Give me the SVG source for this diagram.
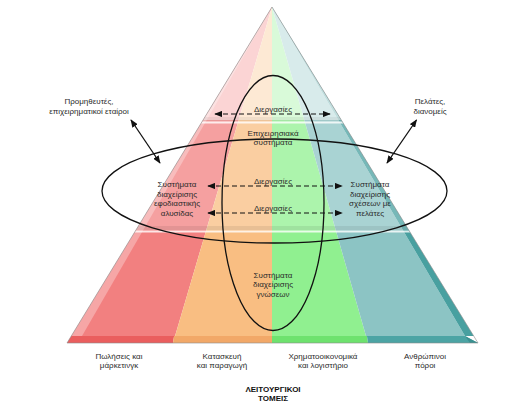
<svg xmlns="http://www.w3.org/2000/svg" width="505" height="405" viewBox="0 0 505 405">
<style>
text{font-family:"Liberation Sans",Arial,sans-serif;font-size:8px;fill:#2a2a2a;text-anchor:middle}
.bold{font-weight:bold;fill:#111}
.ring{fill:none;stroke:#111;stroke-width:1.3}
.dash{stroke:#111;stroke-width:1.2;stroke-dasharray:5 3;fill:none}
.solid{stroke:#111;stroke-width:1.3;fill:none}
</style>
<defs>
<clipPath id="cFront"><polygon points="272,7 71.3,336 465,336"/></clipPath>
<clipPath id="cBase"><polygon points="71.3,336 465,336 478,343 67,343"/></clipPath>
<clipPath id="cAll"><polygon points="272,7 67,343 478,343"/></clipPath>
<marker id="ah" viewBox="0 0 10 8" refX="9" refY="4" markerWidth="8" markerHeight="6.5" markerUnits="userSpaceOnUse" orient="auto-start-reverse"><path d="M0,0 L10,4 L0,8 Z" fill="#111"/></marker>
</defs>

<g id="pyramid">
  <g clip-path="url(#cFront)">
    <polygon points="272,7 173,343 0,343 0,0 272,0" fill="#f28080"/>
    <polygon points="272,7 272,343 173,343" fill="#f9be82"/>
    <polygon points="272,7 368,343 272,343" fill="#90f090"/>
    <polygon points="272,7 272,0 505,0 505,343 368,343" fill="#8cc4c4"/>
  </g>
  <polygon points="272,7 465,336 473.7,336" fill="#48a0a0"/>
  <g clip-path="url(#cBase)">
    <polygon points="0,330 175,330 173,343 0,343" fill="#ea5e5e"/>
    <polygon points="175,330 272,330 272,343 173,343" fill="#f2a868"/>
    <polygon points="272,330 366,330 368,343 272,343" fill="#6ee26e"/>
    <polygon points="366,330 505,330 505,343 368,343" fill="#4ca4a4"/>
    <polygon points="465,336 473.7,336 478,343 470,343" fill="#3a9090"/>
  </g>
  <polygon points="272,7 71.3,336 82,336" fill="#fff" opacity="0.3"/>
  <g clip-path="url(#cAll)">
    <rect x="0" y="0" width="505" height="230" fill="#fff" opacity="0.25"/>
    <rect x="0" y="0" width="505" height="120" fill="#fff" opacity="0.55"/>
    <rect x="0" y="226" width="505" height="4" fill="#000" opacity="0.07"/>
    <rect x="0" y="230.5" width="505" height="2" fill="#fff" opacity="0.8"/>
    <rect x="0" y="117" width="505" height="4" fill="#000" opacity="0.05"/>
    <rect x="0" y="121.5" width="505" height="2" fill="#fff" opacity="0.8"/>
  </g>
  <polygon points="272,7 67,343 478,343" fill="none" stroke="#8a8a8a" stroke-width="0.6"/>
</g>

<g id="ellipse-horizontal"><ellipse class="ring" cx="274.5" cy="191" rx="172.5" ry="52"/></g>
<g id="ellipse-vertical"><ellipse class="ring" cx="273" cy="203" rx="51" ry="127.5"/></g>

<g id="connectors">
  <line class="solid" x1="131" y1="120" x2="160" y2="163" marker-start="url(#ah)" marker-end="url(#ah)"/>
  <line class="solid" x1="416.5" y1="120" x2="387" y2="163" marker-start="url(#ah)" marker-end="url(#ah)"/>
  <line class="dash" x1="215" y1="114" x2="330" y2="114" marker-start="url(#ah)" marker-end="url(#ah)"/>
  <line class="dash" x1="208" y1="186" x2="342" y2="186" marker-start="url(#ah)" marker-end="url(#ah)"/>
  <line class="dash" x1="208" y1="213" x2="342" y2="213" marker-start="url(#ah)" marker-end="url(#ah)"/>
</g>

<g id="label-suppliers"><text x="89" y="104">Προμηθευτές,</text><text x="89" y="113.5">επιχειρηματικοί εταίροι</text></g>
<g id="label-customers"><text x="430" y="104">Πελάτες,</text><text x="430" y="113.5">διανομείς</text></g>
<g id="label-processes-top"><text x="273" y="112">Διεργασίες</text></g>
<g id="label-enterprise"><text x="273" y="136">Επιχειρησιακά</text><text x="273" y="145">συστήματα</text></g>
<g id="label-processes-mid"><text x="273" y="183.5">Διεργασίες</text></g>
<g id="label-processes-low"><text x="273" y="211">Διεργασίες</text></g>
<g id="label-scm"><text x="177" y="187.3">Συστήματα</text><text x="177" y="196.7">διαχείρισης</text><text x="177" y="206.1">εφοδιαστικής</text><text x="177" y="215.5">αλυσίδας</text></g>
<g id="label-crm"><text x="370" y="187.3">Συστήματα</text><text x="370" y="196.7">διαχείρισης</text><text x="370" y="206.1">σχέσεων με</text><text x="370" y="215.5">πελάτες</text></g>
<g id="label-km"><text x="273" y="278">Συστήματα</text><text x="273" y="287.3">διαχείρισης</text><text x="273" y="296.6">γνώσεων</text></g>
<g id="label-sales"><text x="119" y="358.5">Πωλήσεις και</text><text x="119" y="367.5">μάρκετινγκ</text></g>
<g id="label-production"><text x="222" y="358.5">Κατασκευή</text><text x="222" y="367.5">και παραγωγή</text></g>
<g id="label-finance"><text x="323" y="358.5">Χρηματοοικονομικά</text><text x="323" y="367.5">και λογιστήριο</text></g>
<g id="label-hr"><text x="425" y="358.5">Ανθρώπινοι</text><text x="425" y="367.5">πόροι</text></g>
<g id="label-functional"><text class="bold" x="273" y="391.5">ΛΕΙΤΟΥΡΓΙΚΟΙ</text><text class="bold" x="273" y="400.5">ΤΟΜΕΙΣ</text></g>
</svg>
